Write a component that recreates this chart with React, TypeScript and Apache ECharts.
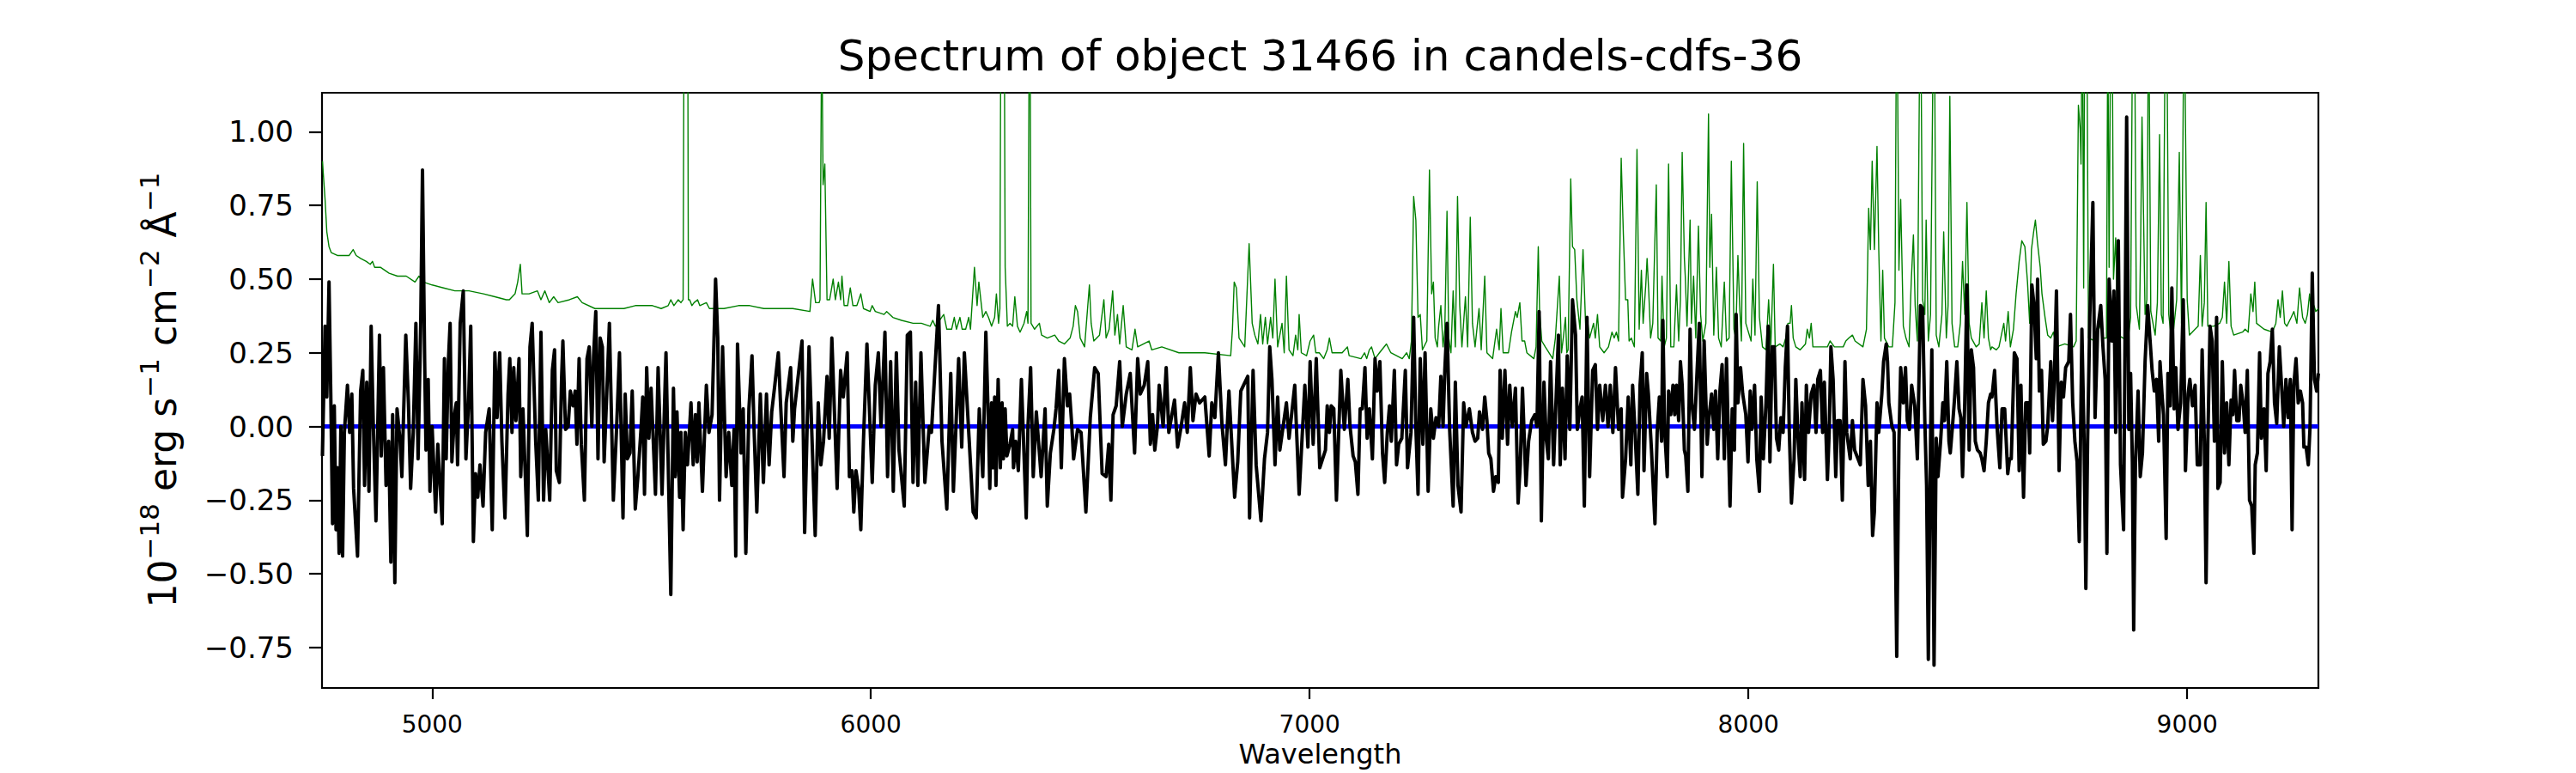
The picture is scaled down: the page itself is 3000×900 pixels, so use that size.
import React, { useEffect, useRef } from "react";
import * as echarts from "echarts";

const TITLE = "Spectrum of object 31466 in candels-cdfs-36";
const X_NAME = "Wavelength";
const X_MIN = 4749;
const X_MAX = 9299;
const Y_MIN = -0.887;
const Y_MAX = 1.132;
const xTicks = [5000, 6000, 7000, 8000, 9000];
const yTicks = [-0.75, -0.5, -0.25, 0, 0.25, 0.5, 0.75, 1.0];

// flux (black), in segments
const flux1: number[][] = [[4750,-0.10],[4756,0.34],[4760,0.10],[4765,0.49],[4769,0.11],[4773,-0.33],[4777,0.07],[4781,-0.35],[4784,-0.14],[4788,-0.43],[4792,0.00],[4796,-0.44],[4800,-0.02],[4807,0.14],[4812,-0.02],[4817,0.11],[4821,-0.21],[4830,-0.44],[4837,0.12],[4842,0.19],[4846,-0.20],[4851,0.15],[4856,-0.22],[4861,0.34],[4866,0.00],[4872,-0.32],[4880,0.31],[4884,-0.10],[4889,0.20],[4895,-0.20],[4901,-0.05],[4906,-0.46],[4910,0.04],[4915,-0.53],[4920,0.06],[4927,-0.05],[4931,-0.17],[4940,0.31],[4946,0.08],[4951,-0.21],[4957,-0.02],[4963,0.35],[4968,-0.11],[4974,0.35],[4978,0.87],[4983,0.22],[4986,-0.08],[4991,0.16],[4995,-0.22],[5000,0.00],[5008,-0.29],[5013,-0.06],[5023,-0.33],[5028,0.23],[5032,-0.11],[5037,0.22],[5041,0.35],[5045,-0.12],[5051,0.04],[5055,0.08],[5058,-0.13],[5064,0.35],[5071,0.46],[5077,-0.11],[5083,0.08],[5088,0.34],[5094,-0.39],[5099,-0.16],[5104,-0.24],[5109,-0.13],[5116,-0.27],[5122,-0.02],[5130,0.06],[5137,-0.35],[5143,0.25],[5148,0.03],[5154,0.25],[5159,-0.05],[5166,-0.31],[5173,0.11],[5177,0.23],[5182,-0.02],[5186,0.20],[5191,0.02],[5198,0.23],[5202,-0.17],[5207,0.06],[5217,-0.37],[5223,0.27],[5228,0.35],[5236,-0.05],[5242,-0.25],[5248,0.32],[5254,-0.25],[5259,-0.01],[5268,-0.25],[5274,0.19],[5279,0.26],[5283,-0.15],[5290,-0.19],[5295,0.16],[5298,0.29],[5304,-0.01],[5310,0.00],[5315,0.12],[5321,0.07],[5326,0.12],[5330,-0.06],[5335,0.23],[5340,-0.06],[5347,-0.25],[5353,0.23],[5358,0.27],[5364,0.00],[5368,0.24],[5373,0.39],[5378,-0.11],[5383,0.30],[5388,0.27],[5392,-0.12],[5398,0.11],[5404,0.35],[5408,0.08],[5413,-0.25],[5420,-0.02],[5427,0.25],[5435,-0.31],[5440,0.11],[5445,-0.11],[5451,-0.09],[5456,0.12],[5463,-0.28],[5469,-0.17],[5476,-0.01],[5480,0.10],[5484,-0.23],[5489,0.20],[5494,-0.04],[5499,0.13]];
const flux2: number[][] = [[5509,-0.23],[5515,0.20],[5524,-0.23],[5533,0.25],[5544,-0.57],[5550,0.13],[5554,-0.17],[5558,0.05],[5564,-0.24],[5567,-0.02],[5572,-0.35],[5577,-0.02],[5582,-0.13],[5590,0.08],[5595,-0.13],[5600,0.04],[5604,-0.12],[5608,0.08],[5616,-0.22],[5625,0.14],[5631,-0.02],[5638,0.04],[5646,0.50],[5651,0.30],[5655,-0.25],[5662,0.27],[5670,-0.17],[5676,-0.02],[5683,-0.20],[5688,-0.01],[5692,-0.44],[5696,0.28],[5704,-0.09],[5709,0.06],[5715,-0.43],[5722,0.06],[5729,0.24],[5734,-0.02],[5740,-0.29],[5748,0.11],[5755,-0.19],[5762,0.11],[5768,-0.13],[5774,0.05],[5781,0.14],[5789,0.25],[5794,0.08],[5802,-0.17],[5807,0.08],[5817,0.20],[5822,-0.05],[5826,0.06],[5835,0.18],[5843,0.29],[5849,-0.36],[5859,0.27],[5873,-0.37],[5880,0.08],[5886,-0.13],[5892,-0.05],[5900,0.17],[5905,-0.04],[5911,0.30],[5923,-0.21],[5931,0.19],[5937,0.10],[5946,0.25],[5951,-0.17],[5957,-0.15],[5961,-0.29],[5966,-0.15],[5972,-0.21],[5977,-0.35],[5983,-0.05],[5991,0.28],[6003,-0.19],[6010,0.14],[6017,0.25],[6023,0.00],[6032,0.32],[6038,-0.17],[6045,0.22],[6051,-0.22],[6058,0.25],[6064,-0.08],[6076,-0.27],[6083,0.31],[6090,0.32],[6096,-0.19],[6102,0.15],[6107,-0.20],[6114,0.25],[6123,-0.19],[6133,0.00],[6138,-0.02],[6154,0.41],[6162,-0.05],[6173,-0.28],[6182,0.18],[6188,-0.22],[6200,0.23],[6207,-0.07],[6213,0.25],[6233,-0.29],[6240,-0.31],[6247,0.06],[6255,-0.17],[6262,0.32]];
const flux3: number[][] = [[6268,0.00],[6271,-0.21],[6275,0.08],[6278,-0.14],[6282,0.10],[6285,-0.20],[6290,0.16],[6295,-0.14],[6299,0.08],[6302,-0.11],[6306,0.06],[6310,-0.10],[6317,-0.06],[6323,-0.01],[6325,-0.14],[6330,-0.05],[6336,-0.15],[6343,0.16],[6354,-0.31],[6358,0.00],[6364,0.20],[6370,-0.17],[6377,0.05],[6388,-0.17],[6397,0.06],[6402,-0.27],[6409,-0.09],[6417,-0.01],[6422,0.06],[6428,0.19],[6434,-0.14],[6441,0.23],[6448,0.07],[6453,0.11],[6458,0.00],[6462,-0.11],[6471,-0.01],[6479,-0.02],[6490,-0.29],[6500,0.03],[6510,0.20],[6518,0.18],[6527,-0.16],[6536,-0.17],[6542,-0.06],[6547,-0.25],[6552,0.04],[6559,0.07],[6567,0.22],[6573,0.00],[6582,0.11],[6591,0.18],[6601,-0.09],[6608,0.23],[6614,0.11],[6623,0.14],[6631,0.22],[6637,-0.06],[6642,0.04],[6647,-0.08],[6653,0.00],[6657,0.14],[6666,0.00],[6673,0.20],[6679,-0.02],[6692,0.09],[6699,-0.07],[6706,-0.01],[6715,0.08],[6721,-0.02],[6728,0.20],[6734,0.02],[6741,0.11],[6749,0.08],[6761,0.10],[6771,-0.10],[6777,0.08],[6784,0.03],[6792,0.25],[6800,0.01],[6808,-0.13],[6816,0.12],[6829,-0.24],[6836,-0.12],[6843,0.12],[6859,0.17],[6863,-0.31],[6871,0.19],[6878,-0.13],[6889,-0.32],[6897,-0.11],[6904,-0.02],[6909,0.27],[6914,0.16],[6921,-0.13],[6927,0.10],[6932,-0.08],[6947,0.08],[6953,-0.04],[6966,0.14],[6976,-0.23],[6989,0.14],[6996,-0.07],[7001,0.22],[7008,-0.06],[7015,0.23],[7023,-0.14]];
const flux4: number[][] = [[7036,-0.08],[7040,0.07],[7045,-0.02],[7049,0.07],[7055,0.06],[7061,-0.25],[7071,0.19],[7079,-0.01],[7087,0.16],[7092,0.00],[7099,-0.10],[7104,-0.12],[7110,-0.23],[7115,0.06],[7120,0.06],[7126,0.20],[7131,-0.04],[7136,0.06],[7143,-0.11],[7149,0.23],[7154,0.12],[7160,0.22],[7166,-0.09],[7171,-0.19],[7177,-0.02],[7182,0.07],[7186,-0.05],[7193,0.19],[7198,-0.13],[7203,-0.06],[7210,-0.04],[7218,0.19],[7223,-0.14],[7231,-0.02],[7237,0.37],[7242,0.00],[7247,-0.23],[7252,0.23],[7258,-0.06],[7263,0.25],[7270,-0.22],[7276,0.06],[7282,-0.04],[7288,0.03],[7294,0.00],[7299,0.17],[7304,0.00],[7308,0.19],[7313,0.35],[7319,-0.01],[7327,-0.27],[7332,0.15],[7338,-0.20],[7345,-0.29],[7351,0.08],[7356,0.00],[7364,0.06],[7371,-0.02],[7377,-0.05],[7383,-0.04],[7387,0.05],[7394,-0.01],[7399,0.10],[7404,0.02],[7408,-0.09],[7413,-0.11],[7419,-0.22],[7424,-0.17],[7430,-0.19],[7434,0.19],[7439,-0.04],[7445,0.19],[7451,-0.06],[7456,0.14],[7462,0.00],[7469,0.13],[7475,-0.26],[7480,-0.13],[7485,0.13],[7493,-0.20],[7499,-0.05],[7506,0.02],[7513,0.04],[7518,0.00],[7523,0.39],[7528,-0.32],[7534,0.15],[7539,-0.04],[7544,-0.11],[7549,0.22],[7556,-0.13],[7562,0.11],[7567,0.31],[7571,-0.13],[7576,0.13],[7582,-0.11],[7587,0.24],[7593,-0.01],[7599,0.43],[7606,0.31],[7610,-0.01],[7616,0.06],[7621,0.10],[7626,-0.27],[7632,0.37],[7638,-0.17],[7645,0.19],[7651,0.21],[7656,-0.01],[7661,0.14],[7668,0.02],[7674,0.14],[7680,0.00],[7685,0.14],[7691,-0.02],[7697,0.20],[7704,-0.01],[7710,0.06],[7713,-0.24],[7720,-0.11],[7726,0.10],[7732,-0.13],[7736,0.14],[7741,0.00],[7748,-0.23],[7753,0.14],[7758,0.25],[7762,-0.15],[7768,0.18],[7772,0.11],[7779,-0.08],[7787,-0.33]];
const flux5: number[][] = [[7792,-0.02],[7797,0.10],[7802,-0.05],[7805,0.36],[7809,-0.01],[7815,-0.17],[7818,0.12],[7823,0.04],[7828,0.14],[7832,0.04],[7836,0.14],[7841,0.02],[7845,0.22],[7849,0.14],[7854,-0.08],[7857,-0.10],[7862,-0.22],[7867,0.33],[7871,0.08],[7877,-0.01],[7883,0.19],[7888,0.35],[7894,-0.17],[7899,0.29],[7906,-0.06],[7910,0.03],[7916,0.11],[7921,-0.01],[7925,0.12],[7930,-0.11],[7935,0.12],[7940,0.21],[7945,-0.11],[7950,0.23],[7953,0.04],[7958,-0.27],[7963,0.06],[7968,-0.08],[7972,0.38],[7976,0.08],[7982,0.20],[7987,0.11],[7994,0.04],[7999,-0.12],[8004,0.12],[8008,-0.01],[8014,0.14],[8019,-0.11],[8025,-0.22],[8029,0.10],[8034,-0.11],[8040,0.08],[8045,0.34],[8049,-0.12],[8054,0.27],[8059,0.27],[8064,-0.04],[8069,-0.08],[8074,0.03],[8079,-0.02],[8084,0.20],[8089,0.34],[8093,-0.01],[8098,-0.26],[8104,-0.11],[8108,0.16],[8113,-0.04],[8118,-0.17],[8122,0.08],[8128,-0.18],[8132,0.14],[8137,-0.02],[8143,0.11],[8149,0.14],[8154,-0.02],[8158,0.16],[8164,0.19],[8169,-0.02],[8173,0.15],[8180,-0.18],[8184,-0.02],[8188,0.27],[8193,0.16],[8199,-0.17],[8203,0.02],[8209,0.02],[8214,-0.25],[8220,0.22],[8224,-0.02],[8232,-0.11],[8237,0.02],[8242,-0.08],[8255,-0.13],[8261,0.16],[8267,0.07],[8273,-0.20],[8278,-0.05],[8283,-0.37],[8287,-0.29],[8293,0.08],[8297,-0.02],[8304,0.11],[8308,0.22],[8314,0.28],[8317,0.22],[8320,0.08],[8327,0.00],[8332,-0.02],[8338,-0.78],[8343,-0.05],[8347,0.20],[8353,0.08],[8358,0.20],[8362,0.02],[8367,-0.01],[8372,0.14],[8379,0.07],[8385,-0.11],[8392,0.41],[8397,0.40],[8402,0.02],[8406,-0.20],[8410,-0.79],[8415,-0.05],[8418,0.26],[8423,-0.81],[8428,-0.04],[8432,-0.17],[8438,-0.05],[8443,0.08],[8447,0.02],[8452,0.22],[8457,-0.05],[8460,-0.09],[8465,0.00],[8470,0.10],[8475,0.22],[8480,0.06],[8484,0.03],[8488,-0.17],[8493,0.08],[8498,0.48],[8503,-0.08],[8508,0.26],[8513,0.20],[8517,-0.05],[8522,-0.08],[8528,-0.09],[8532,-0.11],[8537,-0.15],[8542,-0.05],[8547,0.08],[8552,0.11]];
const flux6: number[][] = [[8555,0.10],[8561,0.19],[8567,-0.01],[8573,-0.14],[8578,0.06],[8584,0.06],[8591,-0.16],[8595,-0.11],[8599,-0.11],[8606,0.25],[8612,0.23],[8617,-0.15],[8621,0.14],[8627,-0.24],[8632,0.08],[8638,0.08],[8641,-0.09],[8646,0.48],[8651,0.41],[8656,0.23],[8659,0.50],[8663,0.12],[8668,0.19],[8672,-0.06],[8678,-0.05],[8682,0.00],[8689,0.22],[8693,0.02],[8697,0.15],[8702,0.46],[8708,-0.15],[8713,0.15],[8718,0.10],[8723,0.20],[8730,0.22],[8734,0.38],[8739,0.08],[8744,-0.05],[8749,-0.12],[8754,-0.39],[8760,0.33],[8765,-0.05],[8769,-0.55],[8773,-0.05],[8778,0.37],[8785,0.76],[8790,0.03],[8796,0.33],[8803,0.41],[8808,0.27],[8813,0.16],[8817,-0.43],[8822,0.50],[8828,0.29],[8833,0.46],[8837,-0.02],[8843,0.63],[8848,-0.13],[8855,-0.35],[8862,1.05],[8867,-0.01],[8871,0.18],[8875,-0.12],[8878,-0.69],[8882,-0.13],[8888,0.12],[8893,-0.17],[8898,-0.09],[8904,0.22],[8910,0.41],[8915,0.30],[8920,0.19],[8925,0.12],[8930,0.16],[8935,-0.05],[8938,0.22],[8943,0.10],[8946,0.04],[8952,-0.38],[8956,0.18],[8961,0.07],[8965,0.47],[8970,0.06],[8974,0.20],[8979,-0.01],[8985,0.08],[8991,0.43],[8996,-0.15],[9002,0.11],[9006,0.16],[9012,0.07],[9018,0.14],[9023,-0.13],[9030,-0.13],[9034,0.26],[9039,-0.05],[9043,-0.53],[9047,-0.05],[9052,0.34],[9057,0.29],[9062,-0.05],[9067,0.37],[9070,-0.21],[9075,-0.19],[9080,0.22],[9085,-0.09],[9090,0.08],[9095,-0.13],[9100,0.09],[9104,0.04],[9108,0.19],[9113,0.02],[9118,0.02],[9122,0.14],[9128,0.07],[9132,-0.02],[9137,0.19],[9142,-0.25],[9147,-0.27],[9152,-0.43],[9155,-0.13],[9160,-0.09],[9165,0.25],[9169,-0.04],[9175,0.06],[9180,-0.15],[9184,0.18],[9189,0.22],[9194,0.33],[9199,0.08],[9204,0.01],[9210,0.27],[9215,0.14],[9220,0.00],[9225,0.16],[9230,0.03],[9235,0.16],[9239,-0.35],[9243,0.14],[9248,0.23],[9253,0.08],[9258,0.12],[9263,0.08],[9266,-0.07],[9271,-0.07],[9276,-0.13],[9280,0.00],[9285,0.52],[9290,0.16],[9295,0.12],[9299,0.18]];

// noise / sky spectrum (green), in segments
const sky1: number[][] = [[4750,0.90],[4756,0.77],[4760,0.66],[4765,0.61],[4770,0.59],[4784,0.58],[4797,0.58],[4811,0.58],[4820,0.60],[4827,0.58],[4837,0.57],[4850,0.56],[4859,0.55],[4864,0.56],[4869,0.54],[4882,0.54],[4902,0.52],[4921,0.51],[4941,0.51],[4961,0.49],[4970,0.51],[4980,0.49],[5000,0.48],[5026,0.47],[5052,0.46],[5084,0.46],[5117,0.45],[5143,0.44],[5169,0.43],[5176,0.43],[5189,0.45],[5195,0.49],[5201,0.55],[5205,0.45],[5221,0.45],[5240,0.46],[5248,0.43],[5257,0.46],[5267,0.42],[5277,0.44],[5287,0.42],[5313,0.43],[5331,0.44],[5342,0.42],[5371,0.40],[5404,0.40],[5437,0.40],[5463,0.41],[5502,0.41]];
const sky2: number[][] = [[5522,0.40],[5538,0.41],[5544,0.43],[5551,0.41],[5561,0.43],[5567,0.42],[5572,0.43],[5575,1.8],[5578,1.5],[5582,1.8],[5584,0.43],[5587,0.43],[5592,0.41],[5597,0.42],[5605,0.43],[5610,0.41],[5625,0.42],[5632,0.40],[5665,0.40],[5698,0.41],[5724,0.41],[5756,0.40],[5789,0.40],[5822,0.40],[5861,0.39],[5867,0.50],[5874,0.42],[5882,0.42],[5884,0.43],[5888,1.4],[5891,0.82],[5895,0.89],[5900,0.43],[5906,0.43],[5914,0.50],[5919,0.43],[5926,0.49],[5931,0.43],[5934,0.51],[5939,0.41],[5947,0.41],[5953,0.47],[5959,0.41],[5968,0.41],[5977,0.45],[5983,0.40],[5998,0.39],[6003,0.41],[6010,0.39],[6030,0.38],[6036,0.39],[6050,0.37],[6070,0.36],[6096,0.35],[6115,0.35],[6135,0.34],[6141,0.36],[6147,0.34],[6166,0.38],[6173,0.33],[6184,0.33],[6190,0.37],[6195,0.33],[6203,0.37],[6208,0.33],[6216,0.33],[6223,0.37],[6227,0.33],[6236,0.54],[6242,0.41],[6246,0.49],[6255,0.37],[6262,0.39]];
const sky3: number[][] = [[6268,0.37],[6275,0.34],[6282,0.37],[6286,0.45],[6291,0.35],[6294,0.40],[6297,1.8],[6300,1.5],[6303,1.8],[6306,0.54],[6311,0.34],[6317,0.35],[6323,0.34],[6328,0.44],[6334,0.34],[6340,0.32],[6349,0.35],[6355,0.39],[6358,0.35],[6362,1.8],[6365,0.35],[6373,0.33],[6384,0.35],[6389,0.31],[6402,0.30],[6419,0.31],[6428,0.29],[6441,0.28],[6454,0.30],[6461,0.34],[6466,0.41],[6471,0.39],[6477,0.30],[6487,0.27],[6498,0.48],[6502,0.35],[6508,0.29],[6521,0.31],[6531,0.43],[6536,0.30],[6543,0.33],[6551,0.46],[6556,0.31],[6562,0.38],[6567,0.28],[6575,0.41],[6582,0.27],[6595,0.26],[6602,0.33],[6608,0.27],[6634,0.29],[6640,0.26],[6663,0.27],[6702,0.25],[6761,0.25],[6820,0.24],[6824,0.33],[6828,0.49],[6833,0.47],[6839,0.30],[6852,0.27],[6862,0.62],[6869,0.35],[6875,0.31],[6882,0.28],[6888,0.38],[6893,0.28],[6899,0.37],[6904,0.28],[6911,0.37],[6916,0.30],[6921,0.50],[6927,0.27],[6937,0.35],[6942,0.25],[6947,0.51],[6953,0.26],[6962,0.24],[6968,0.31],[6973,0.26],[6976,0.38],[6981,0.25],[6993,0.24],[7001,0.29],[7009,0.31],[7014,0.25]];
const sky4: number[][] = [[7022,0.25],[7032,0.23],[7040,0.26],[7045,0.30],[7051,0.25],[7074,0.25],[7086,0.27],[7090,0.24],[7117,0.23],[7125,0.25],[7130,0.23],[7136,0.26],[7141,0.27],[7149,0.23],[7159,0.25],[7175,0.28],[7185,0.25],[7211,0.23],[7221,0.25],[7227,0.23],[7232,0.29],[7237,0.78],[7242,0.70],[7247,0.37],[7252,0.38],[7257,0.26],[7267,0.29],[7273,0.87],[7278,0.45],[7282,0.49],[7286,0.30],[7291,0.27],[7294,0.34],[7299,0.41],[7304,0.27],[7308,0.33],[7313,0.73],[7317,0.30],[7322,0.25],[7327,0.46],[7332,0.27],[7337,0.78],[7342,0.41],[7347,0.27],[7355,0.44],[7360,0.27],[7366,0.71],[7371,0.35],[7377,0.27],[7386,0.40],[7391,0.26],[7399,0.51],[7404,0.25],[7417,0.23],[7426,0.33],[7432,0.26],[7436,0.40],[7441,0.25],[7453,0.25],[7460,0.32],[7469,0.39],[7473,0.37],[7479,0.42],[7484,0.29],[7490,0.29],[7495,0.25],[7511,0.23],[7516,0.27],[7521,0.61],[7524,0.39],[7529,0.29],[7537,0.27],[7554,0.23],[7560,0.30],[7569,0.51],[7574,0.25],[7578,0.30],[7583,0.37],[7586,0.25],[7589,0.26],[7595,0.84],[7599,0.61],[7604,0.60],[7609,0.43],[7616,0.33],[7623,0.60],[7629,0.34],[7634,0.35],[7638,0.30],[7647,0.35],[7651,0.30],[7656,0.38],[7661,0.27],[7671,0.25],[7681,0.27],[7689,0.32],[7694,0.30],[7699,0.32],[7704,0.29],[7710,0.91],[7715,0.65],[7720,0.43],[7725,0.43],[7728,0.29],[7733,0.30],[7740,0.27],[7746,0.94],[7751,0.33],[7756,0.53],[7760,0.35],[7766,0.48],[7769,0.57],[7773,0.45],[7777,0.30],[7782,0.35]];
const sky5: number[][] = [[7790,0.82],[7794,0.30],[7800,0.29],[7803,0.51],[7808,0.27],[7813,0.30],[7818,0.89],[7823,0.27],[7830,0.27],[7836,0.48],[7841,0.29],[7845,0.43],[7849,0.93],[7854,0.57],[7856,0.51],[7860,0.34],[7867,0.70],[7870,0.35],[7875,0.51],[7880,0.30],[7886,0.68],[7891,0.38],[7896,0.29],[7903,0.35],[7909,1.06],[7912,0.54],[7916,0.72],[7921,0.31],[7927,0.54],[7932,0.30],[7938,0.27],[7945,0.49],[7950,0.29],[7956,0.30],[7961,0.90],[7967,0.33],[7971,0.30],[7976,0.58],[7980,0.41],[7984,0.29],[7989,0.96],[7994,0.35],[8006,0.29],[8010,0.50],[8015,0.31],[8020,0.83],[8025,0.37],[8032,0.27],[8040,0.26],[8046,0.43],[8051,0.27],[8057,0.55],[8061,0.27],[8072,0.28],[8079,0.27],[8085,0.30],[8090,0.35],[8095,0.35],[8098,0.41],[8102,0.30],[8108,0.27],[8118,0.26],[8130,0.28],[8134,0.33],[8139,0.30],[8143,0.35],[8147,0.27],[8164,0.27],[8180,0.27],[8186,0.29],[8196,0.27],[8216,0.27],[8222,0.29],[8229,0.30],[8237,0.31],[8243,0.29],[8261,0.27],[8269,0.33],[8274,0.74],[8278,0.60],[8282,0.90],[8287,0.60],[8293,0.95],[8297,0.60],[8302,0.29],[8306,0.53],[8310,0.30],[8320,0.27],[8328,0.27],[8334,0.42],[8338,1.6],[8343,0.53],[8347,0.77],[8353,0.34],[8359,0.30],[8366,0.27],[8371,0.49],[8376,0.65],[8380,0.41],[8385,0.29],[8392,1.6],[8397,0.43],[8402,0.38],[8405,0.70],[8410,0.29],[8415,0.38],[8423,1.6],[8428,0.31],[8434,0.27],[8441,0.38],[8445,0.66],[8451,0.30],[8455,0.41],[8459,1.12],[8464,0.35],[8470,0.27],[8477,0.27],[8483,0.35],[8488,0.56],[8493,0.38],[8498,0.76],[8503,0.35],[8508,0.30],[8519,0.27],[8526,0.28],[8532,0.42],[8537,0.30],[8542,0.46],[8547,0.30],[8552,0.26]];
const sky6: number[][] = [[8555,0.27],[8565,0.26],[8571,0.27],[8582,0.35],[8586,0.29],[8592,0.39],[8597,0.27],[8604,0.33],[8610,0.45],[8617,0.56],[8623,0.63],[8630,0.61],[8636,0.49],[8641,0.35],[8645,0.60],[8650,0.66],[8654,0.70],[8659,0.62],[8665,0.54],[8669,0.45],[8676,0.37],[8682,0.31],[8689,0.30],[8695,0.32],[8702,0.27],[8721,0.28],[8741,0.27],[8747,0.29],[8752,1.09],[8756,1.01],[8758,0.89],[8761,1.5],[8764,0.47],[8767,1.6],[8771,1.5],[8775,0.30],[8790,0.29],[8803,0.35],[8809,0.30],[8816,0.30],[8819,1.4],[8822,0.54],[8826,1.5],[8829,1.4],[8832,0.50],[8837,0.64],[8842,0.31],[8854,0.30],[8865,0.29],[8871,0.37],[8876,1.5],[8880,1.4],[8884,0.41],[8891,0.33],[8894,0.64],[8897,1.05],[8904,0.38],[8908,0.43],[8912,1.5],[8917,0.39],[8927,0.31],[8932,0.42],[8937,0.99],[8941,0.38],[8945,0.35],[8950,1.4],[8953,1.5],[8958,0.38],[8963,0.31],[8969,0.33],[8976,0.43],[8982,0.93],[8987,0.35],[8993,1.5],[9000,0.43],[9005,0.31],[9018,0.33],[9025,0.34],[9030,0.58],[9034,0.34],[9039,0.42],[9043,0.76],[9047,0.34],[9060,0.34],[9074,0.35],[9080,0.37],[9085,0.49],[9090,0.35],[9095,0.56],[9100,0.34],[9106,0.31],[9126,0.32],[9132,0.33],[9139,0.32],[9145,0.45],[9150,0.39],[9154,0.49],[9158,0.35],[9175,0.33],[9194,0.32],[9202,0.35],[9207,0.43],[9212,0.37],[9217,0.46],[9222,0.35],[9227,0.34],[9237,0.37],[9243,0.39],[9250,0.35],[9256,0.47],[9263,0.37],[9269,0.35],[9274,0.38],[9279,0.45],[9284,0.37],[9289,0.41],[9293,0.39],[9299,0.40]];

// zero level (blue)
const zeroLevel: number[][] = [[X_MIN, 0], [X_MAX, 0]];

const flux = [...flux1, ...flux2, ...flux3, ...flux4, ...flux5, ...flux6];
const sky = [...sky1, ...sky2, ...sky3, ...sky4, ...sky5, ...sky6];

const FONT = "DejaVu Sans";

function fmtY(v: number): string {
  const s = Math.abs(v).toFixed(2);
  return v < 0 ? "\u2212" + s : s;
}

function fmtX(v: number): string {
  return String(Math.round(v));
}

export default function App() {
  const ref = useRef<HTMLDivElement>(null);
  useEffect(() => {
    if (!ref.current) return;
    const chart = echarts.init(ref.current, null, { renderer: "svg", width: 3000, height: 900 });
    const tickStyle = { color: "#000", width: 2.2 };
    chart.setOption({
      animation: false,
      backgroundColor: "#ffffff",
      textStyle: { fontFamily: FONT },
      grid: {
        left: 375, right: 300, top: 108, bottom: 99,
        show: true, borderColor: "#000", borderWidth: 2.2, backgroundColor: "transparent",
        outerBoundsMode: "none",
      },
      xAxis: {
        type: "value", min: X_MIN, max: X_MAX,
        axisLine: { show: false, onZero: false },
        axisTick: { show: true, length: 13, lineStyle: tickStyle, customValues: xTicks },
        axisLabel: { customValues: xTicks, fontSize: 28, color: "#000", margin: 28, fontFamily: FONT, formatter: fmtX },
        splitLine: { show: false },
        name: X_NAME, nameLocation: "middle", nameGap: 57,
        nameTextStyle: { fontSize: 32, color: "#000", fontFamily: FONT },
      },
      yAxis: {
        type: "value", min: Y_MIN, max: Y_MAX,
        axisLine: { show: false, onZero: false },
        axisTick: { show: true, length: 15, lineStyle: tickStyle, customValues: yTicks },
        axisLabel: { customValues: yTicks, fontSize: 34, color: "#000", margin: 33, fontFamily: FONT, formatter: fmtY },
        splitLine: { show: false },
      },
      graphic: [
        {
          type: "text", x: 1537.5, y: 65, silent: true,
          style: { text: TITLE, fontSize: 50, fontFamily: FONT, fill: "#000", align: "center", verticalAlign: "middle" },
        },
        {
          type: "text", x: 189, y: 454, rotation: Math.PI / 2, silent: true,
          style: {
            text: "{m|10}{s|\u221218}{m| erg s}{s|\u22121}{m| cm}{s|\u22122}{m| \u00c5}{s|\u22121}",
            fontSize: 44, fontFamily: FONT, fill: "#000", align: "center", verticalAlign: "middle",
            rich: {
              m: { fontSize: 44, fontFamily: FONT, fill: "#000", lineHeight: 61 },
              s: { fontSize: 31, fontFamily: FONT, fill: "#000", lineHeight: 31, verticalAlign: "top" },
            },
          },
        },
      ],
      series: [
        {
          type: "line", data: sky, symbol: "none", silent: true, clip: true,
          lineStyle: { color: "#008000", width: 1.4, join: "round" },
        },
        {
          type: "line", data: zeroLevel, symbol: "none", silent: true, clip: true,
          lineStyle: { color: "#0000ff", width: 5 },
        },
        {
          type: "line", data: flux, symbol: "none", silent: true, clip: true,
          lineStyle: { color: "#000000", width: 4, join: "round" },
        },
      ],
    });
    return () => chart.dispose();
  }, []);
  return (
    <div
      ref={ref}
      style={{ position: "absolute", left: 0, top: 0, width: 3000, height: 900, background: "#ffffff" }}
    />
  );
}
